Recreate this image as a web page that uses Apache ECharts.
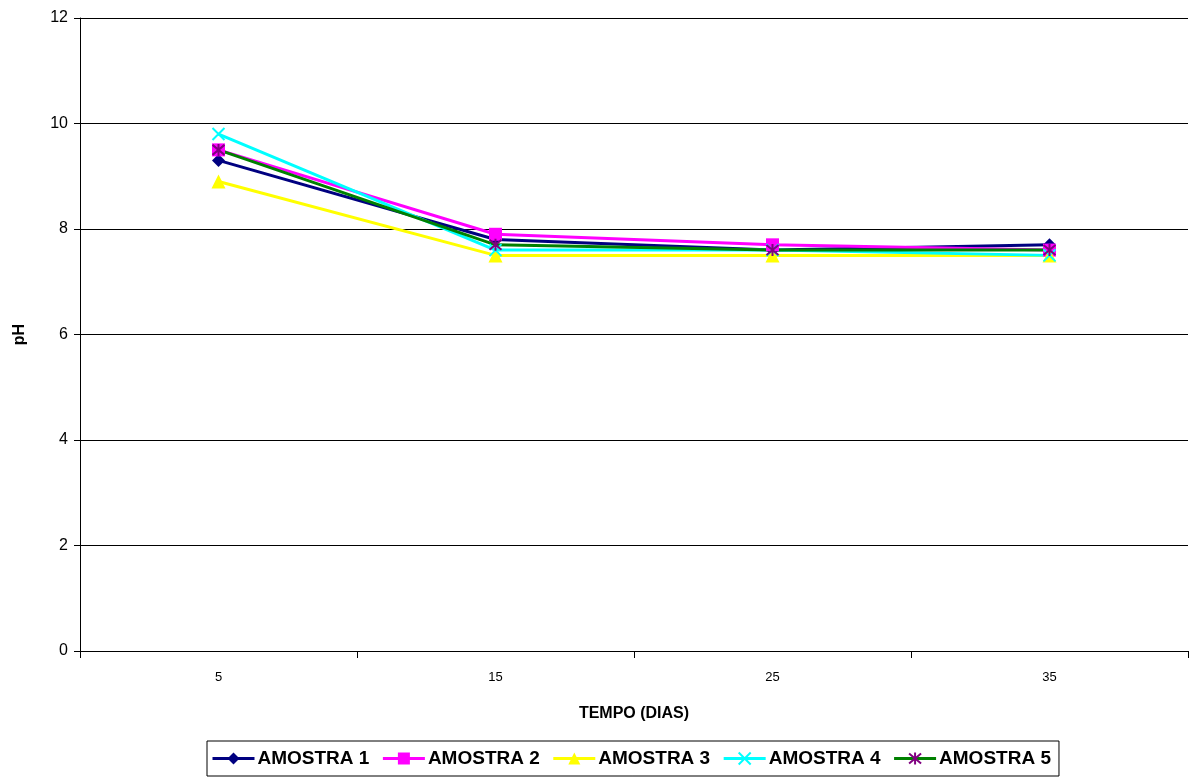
<!DOCTYPE html>
<html><head><meta charset="utf-8">
<script src="https://cdn.jsdelivr.net/npm/echarts@6/dist/echarts.min.js"></script>
<style>html,body{margin:0;padding:0;background:#fff}#c{width:1190px;height:778px}</style>
</head><body><div id="c"></div>
<script>
const categories = ['5', '15', '25', '35'];
const yTicks = [0, 2, 4, 6, 8, 10, 12];
const amostra1 = [9.3, 7.8, 7.6, 7.7];
const amostra2 = [9.5, 7.9, 7.7, 7.6];
const amostra3 = [8.9, 7.5, 7.5, 7.5];
const amostra4 = [9.8, 7.6, 7.6, 7.5];
const amostra5 = [9.5, 7.7, 7.6, 7.6];
const names = ['AMOSTRA 1', 'AMOSTRA 2', 'AMOSTRA 3', 'AMOSTRA 4', 'AMOSTRA 5'];

const xPath = 'path://M0,0L10,10M10,0L0,10';
const starPath = 'path://M0,0L10,10M10,0L0,10M5,-1L5,11';

const chart = echarts.init(document.getElementById('c'));
const font = 'Liberation Sans, Arial, sans-serif';
function mk(name, data, lineColor, symbol, size, item) {
  return {
    name, type: 'line', data, symbol, symbolSize: size,
    lineStyle: { color: lineColor, width: 3 },
    itemStyle: item,
    emphasis: { disabled: true },
    animation: false
  };
}
chart.setOption({
  animation: false,
  grid: { left: 80, right: 2, top: 18, bottom: 127 },
  legend: {
    top: 741, left: 207,
    data: names,
    itemWidth: 42, itemHeight: 15, itemGap: 12,
    padding: [8, 8, 8, 4],
    borderColor: '#000', borderWidth: 1,
    lineStyle: { width: 3 },
    textStyle: { fontFamily: font, fontWeight: 'bold', fontSize: 19, color: '#000', padding: [0, 0, 0, -2] }
  },
  xAxis: {
    type: 'category', data: categories, boundaryGap: true,
    name: 'TEMPO (DIAS)', nameLocation: 'middle', nameGap: 55,
    nameTextStyle: { fontFamily: font, fontWeight: 'bold', fontSize: 16, color: '#000' },
    axisLine: { lineStyle: { color: '#000', width: 1 } },
    axisTick: { show: true, length: 7, lineStyle: { color: '#000' } },
    axisLabel: { fontFamily: font, fontSize: 13, color: '#000', margin: 20 },
    splitLine: { show: false }
  },
  yAxis: {
    type: 'value', min: 0, max: 12, interval: 2,
    name: 'pH', nameLocation: 'middle', nameGap: 52,
    nameTextStyle: { fontFamily: font, fontWeight: 'bold', fontSize: 16, color: '#000' },
    axisLine: { show: true, lineStyle: { color: '#000' } },
    axisTick: { show: true, length: 6, lineStyle: { color: '#000' } },
    axisLabel: { fontFamily: font, fontSize: 16, color: '#000', margin: 12,
      formatter: v => yTicks.includes(v) ? String(v) : '' },
    splitLine: { show: true, lineStyle: { color: '#000', width: 1 } }
  },
  series: [
    mk(names[0], amostra1, '#000080', 'diamond', 13, { color: '#000080' }),
    mk(names[1], amostra2, '#ff00ff', 'rect', 13, { color: '#ff00ff' }),
    mk(names[2], amostra3, '#ffff00', 'triangle', 14, { color: '#ffff00' }),
    mk(names[3], amostra4, '#00ffff', xPath, 12, { color: 'rgba(0,0,0,0)', borderColor: '#00ffff', borderWidth: 2 }),
    mk(names[4], amostra5, '#008000', starPath, 12, { color: 'rgba(0,0,0,0)', borderColor: '#800080', borderWidth: 2 })
  ]
});
</script></body></html>
